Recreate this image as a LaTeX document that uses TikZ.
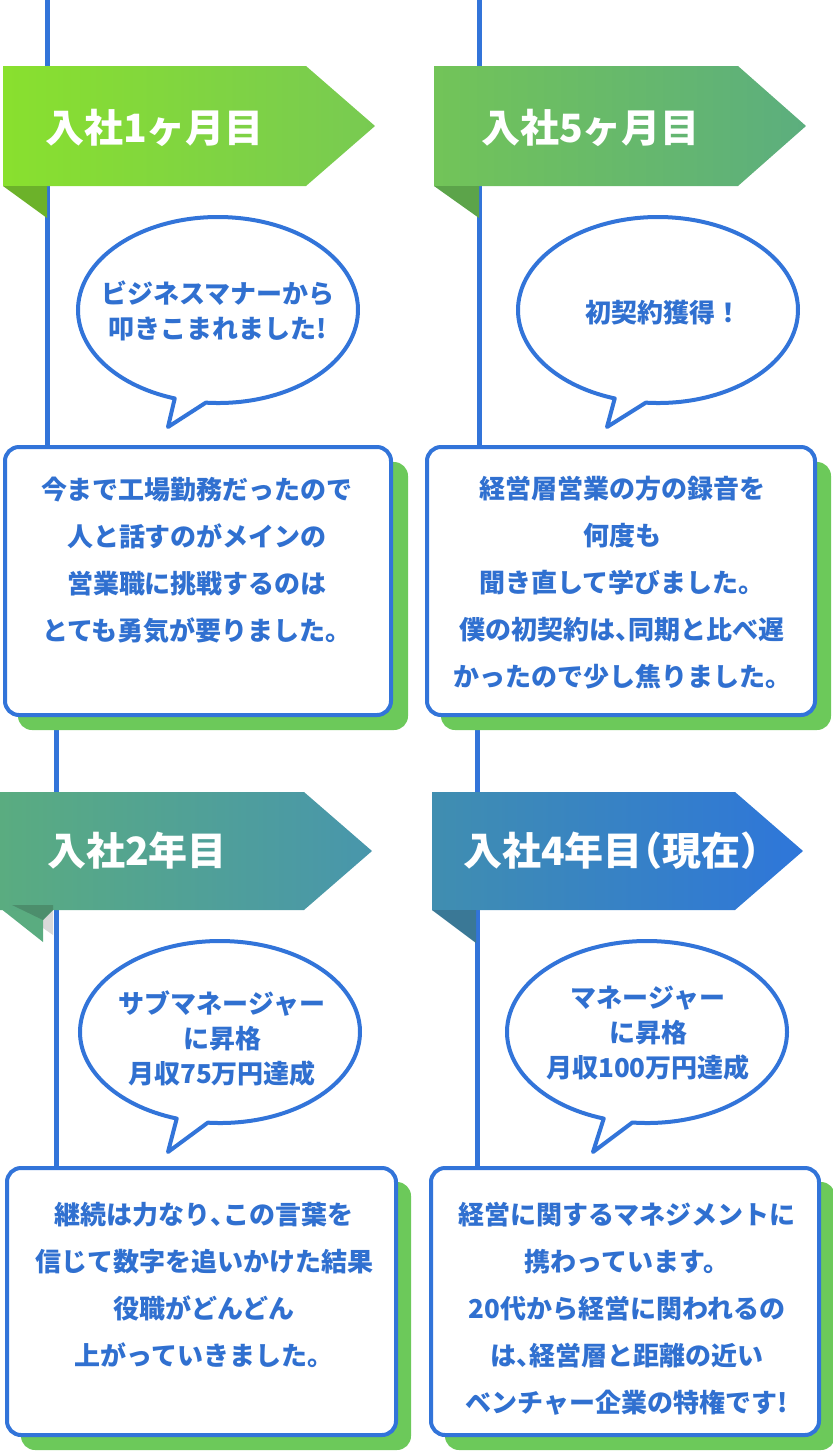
\documentclass[tikz,border=0pt]{standalone}
\usepackage{fontspec}
\setmainfont{Noto Sans CJK JP}
\newfontfamily\halfjp{Noto Sans CJK JP}[RawFeature=+halt]
\newcommand{\tou}{{\halfjp\bfseries 、}}
\usetikzlibrary{positioning}

\definecolor{lineblue}{RGB}{50,116,217}
\definecolor{textblue}{RGB}{48,112,208}
\definecolor{shadowgreen}{RGB}{108,201,90}
\definecolor{oneL}{RGB}{137,224,46}
\definecolor{oneR}{RGB}{120,202,82}
\definecolor{oneF}{RGB}{108,178,42}
\definecolor{fiveL}{RGB}{114,196,88}
\definecolor{fiveR}{RGB}{92,174,126}
\definecolor{fiveF}{RGB}{92,164,74}
\definecolor{twoL}{RGB}{90,172,128}
\definecolor{twoR}{RGB}{72,150,172}
\definecolor{twoF}{RGB}{76,142,108}
\definecolor{fourL}{RGB}{64,142,176}
\definecolor{fourR}{RGB}{46,118,218}
\definecolor{fourF}{RGB}{58,120,150}

\pgfdeclarelayer{background}
\pgfsetlayers{background,main}

\tikzset{
  tl/.style={lineblue, line width=5pt},
  card/.style={draw=lineblue, line width=4pt, fill=white, rounded corners=14pt, inner sep=0pt},
  cardshadow/.style={fill=shadowgreen, rounded corners=14pt, inner sep=0pt},
  bubble/.style={draw=lineblue, line width=4pt, fill=white, line join=round},
  ribbon/.style={text=white, font=\fontsize{39}{42}\selectfont\bfseries, anchor=west, inner sep=0pt},
  says/.style={text=textblue, font=\fontsize{26}{35}\selectfont\bfseries, align=center, inner sep=0pt},
  story/.style={text=textblue, font=\fontsize{26}{47}\selectfont\bfseries, align=center, inner sep=0pt}
}

\begin{document}
\begin{tikzpicture}[x=1pt, y=-1pt]
\useasboundingbox (0,0) rectangle (833,1452);

% cards with green shadow
\node[cardshadow, minimum width=390pt, minimum height=268pt] (shd1) at (213,596) {};
\node[card, minimum width=386pt, minimum height=268pt] (box1) at (198,581) {};
\node[cardshadow, minimum width=390pt, minimum height=268pt] (shd2) at (636,596) {};
\node[card, minimum width=388pt, minimum height=268pt] (box2) at (621,581) {};
\node[cardshadow, minimum width=390pt, minimum height=268pt] (shd3) at (216,1316) {};
\node[card, minimum width=389pt, minimum height=267pt] (box3) at (201.5,1301.5) {};
\node[cardshadow, minimum width=390pt, minimum height=268pt] (shd4) at (640,1316) {};
\node[card, minimum width=388pt, minimum height=267pt] (box4) at (625,1301.5) {};

\node[story] (msg1) at (197,560) {今まで工場勤務だったので\\人と話すのがメインの\\営業職に挑戦するのは\\とても勇気が要りました。};
\node[story] (msg2) at (622,583) {経営層営業の方の録音を\\何度も\\聞き直して学びました。\\僕の初契約は\tou 同期と比べ遅\\かったので少し焦りました。};
\node[story] (msg3) at (204,1285) {継続は力なり\tou この言葉を\\信じて数字を追いかけた結果\\役職がどんどん\\上がっていきました。};
\node[story] (msg4) at (627,1309) {経営に関するマネジメントに\\携わっています。\\20代から経営に関われるの\\は\tou 経営層と距離の近い\\ベンチャー企業の特権です!};

% ribbons
\shade[left color=oneL, right color=oneR] (3,66) -- (306,66) -- (375,126) -- (306,186) -- (3,186) -- cycle;
\fill[oneF] (3,186) -- (47,186) -- (47,218) -- cycle;
\node[ribbon] (tag1) at (45,128) {入社1ヶ月目};

\shade[left color=fiveL, right color=fiveR] (434,66) -- (738,66) -- (806,126) -- (738,186) -- (434,186) -- cycle;
\fill[fiveF] (434,186) -- (479,186) -- (479,218) -- cycle;
\node[ribbon] (tag2) at (481,128) {入社5ヶ月目};

\fill[black!15] (43,910) -- (53,910) -- (53,935) -- (43,928) -- cycle;
\fill[twoL] (0,908) -- (43,908) -- (43,942) -- cycle;
\shade[left color=twoL, right color=twoR] (0,792) -- (304,792) -- (372,851) -- (304,910) -- (0,910) -- cycle;
\fill[twoF] (12,905) -- (53,905) -- (53,910) -- (43,920) -- cycle;
\node[ribbon] (tag3) at (47,851) {入社2年目};

\shade[left color=fourL, right color=fourR] (432,792) -- (735,792) -- (803,851) -- (735,910) -- (432,910) -- cycle;
\fill[fourF] (432,910) -- (476,910) -- (476,943) -- cycle;
\node[ribbon] (tag4) at (463,851) {入社4年目{\halfjp\bfseries（現在）}};

% speech bubbles
\draw[bubble, shift={(218,310)}] (95:140 and 93) arc[start angle=95, end angle=-252, x radius=140, y radius=93] -- (-50,117) -- cycle;
\node[says] (say1) at (218,311) {ビジネスマナーから\\叩きこまれました!};
\draw[bubble, shift={(658,310)}] (95:140 and 93) arc[start angle=95, end angle=-252, x radius=140, y radius=93] -- (-51,117) -- cycle;
\node[says] (say2) at (663,313) {初契約獲得！};
\draw[bubble, shift={(220,1032)}] (95:140 and 91) arc[start angle=95, end angle=-252, x radius=140, y radius=91] -- (-52,120) -- cycle;
\node[says] (say3) at (222,1039) {サブマネージャー\\に昇格\\月収75万円達成};
\draw[bubble, shift={(647,1032)}] (96:140 and 91) arc[start angle=96, end angle=-252, x radius=140, y radius=91] -- (-54,120) -- cycle;
\node[says] (say4) at (648,1033) {マネージャー\\に昇格\\月収100万円達成};

% timeline
\coordinate (top1) at (47,0);
\coordinate (top2) at (479,0);
\coordinate (low1) at (56,0);
\coordinate (low2) at (477,0);
\begin{pgfonlayer}{background}
\draw[tl] (top1) -- (top1 |- box1.north);
\draw[tl] (top2) -- (top2 |- box2.north);
\draw[tl] (low1 |- box1.south) -- (low1 |- box3.north);
\draw[tl] (low2 |- box2.south) -- (low2 |- box4.north);
\end{pgfonlayer}
\end{tikzpicture}
\end{document}
